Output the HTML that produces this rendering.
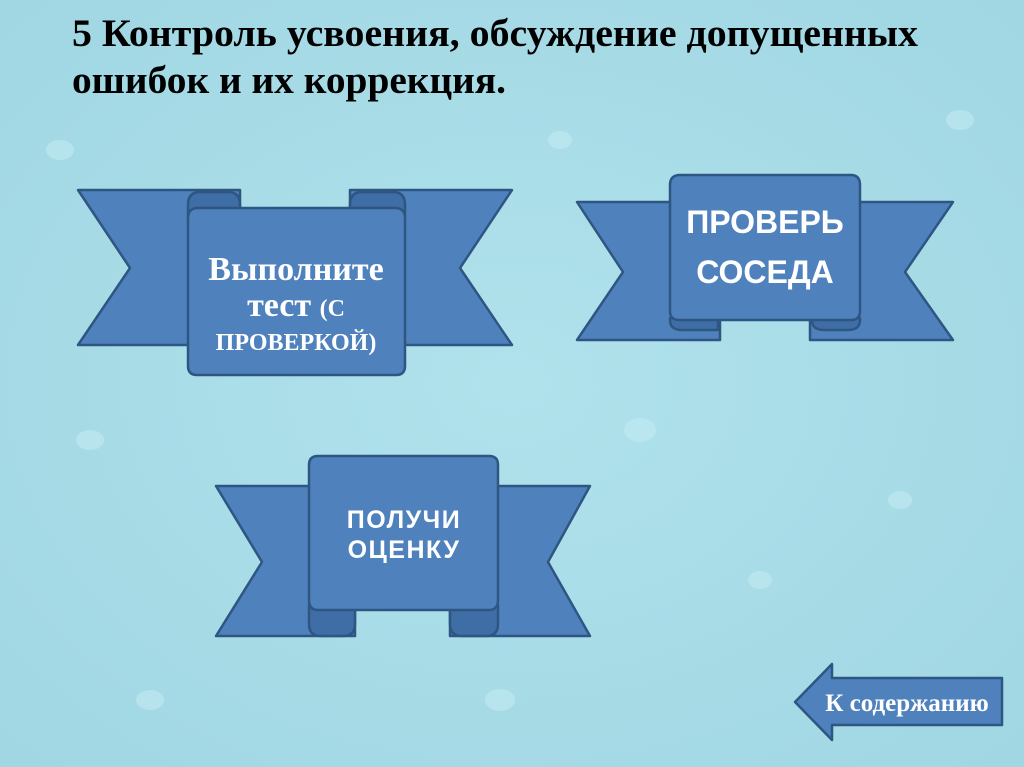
<!DOCTYPE html>
<html><head><meta charset="utf-8"><style>
html,body{margin:0;padding:0;width:1024px;height:767px;overflow:hidden;background:#a9dde8;}
svg{display:block}
</style></head><body>
<svg width="1024" height="767" viewBox="0 0 1024 767" xmlns="http://www.w3.org/2000/svg">
<defs>
<radialGradient id="bg" cx="50%" cy="50%" r="75%"><stop offset="0" stop-color="#b0e2ec"/><stop offset="1" stop-color="#9fd6e2"/></radialGradient>
</defs>
<rect width="1024" height="767" fill="url(#bg)"/>
<g fill="#c8eef4" opacity="0.5">
<ellipse cx="60" cy="150" rx="14" ry="10"/><ellipse cx="640" cy="430" rx="16" ry="12"/><ellipse cx="900" cy="500" rx="12" ry="9"/>
<ellipse cx="150" cy="700" rx="14" ry="10"/><ellipse cx="500" cy="700" rx="15" ry="11"/><ellipse cx="760" cy="580" rx="12" ry="9"/>
<ellipse cx="960" cy="120" rx="14" ry="10"/><ellipse cx="560" cy="140" rx="12" ry="9"/><ellipse cx="90" cy="440" rx="14" ry="10"/>
</g>
<g font-family="'Liberation Serif',serif" font-weight="bold" font-size="39" fill="#000">
<text x="72" y="46" textLength="846" lengthAdjust="spacingAndGlyphs">5 Контроль усвоения, обсуждение допущенных</text>
<text x="72" y="93" textLength="434" lengthAdjust="spacingAndGlyphs">ошибок и их коррекция.</text>
</g>

<g fill="#4f81bd" stroke="#2f5682" stroke-width="2.5" stroke-linejoin="round">
<polygon points="78,190 240,190 240,345 78,345 130,268"/>
<polygon points="512,190 350,190 350,345 512,345 460,268"/>
<path d="M188,205 Q188,192 200,192 L228,192 Q240,192 240,205 L240,218 L188,218 Z" fill="#3f6ea6"/>
<path d="M350,205 Q350,192 362,192 L393,192 Q405,192 405,205 L405,218 L350,218 Z" fill="#3f6ea6"/>
<path d="M188,218 Q188,208 198,208 L395,208 Q405,208 405,218 L405,366 Q405,375 396,375 L197,375 Q188,375 188,366 Z"/>
<polygon points="577,202 720,202 720,340 577,340 623,272"/>
<polygon points="953,202 810,202 810,340 953,340 905,272"/>
<path d="M670,318 L718,318 L718,330 Q718,330 706,330 L682,330 Q670,330 670,320 Z" fill="#3f6ea6"/>
<path d="M812,318 L860,318 L860,320 Q860,330 848,330 L824,330 Q812,330 812,320 Z" fill="#3f6ea6"/>
<path d="M670,185 Q670,175 680,175 L851,175 Q860,175 860,185 L860,311 Q860,320 851,320 L679,320 Q670,320 670,311 Z"/>
<polygon points="216,486 355,486 355,636 216,636 262,562"/>
<polygon points="590,486 450,486 450,636 590,636 548,562"/>
<path d="M309,605 L355,605 L355,624 Q355,636 343,636 L321,636 Q309,636 309,624 Z" fill="#3f6ea6"/>
<path d="M450,605 L498,605 L498,624 Q498,636 486,636 L462,636 Q450,636 450,624 Z" fill="#3f6ea6"/>
<path d="M309,465 Q309,456 318,456 L489,456 Q498,456 498,465 L498,600 Q498,610 489,610 L318,610 Q309,610 309,600 Z"/>
<polygon points="795,702 832,664 832,678 1002,678 1002,725 832,725 832,740"/>
</g>

<g fill="#fff" text-anchor="middle">
<g font-family="'Liberation Serif',serif" font-weight="bold">
<text x="296" y="280" font-size="34">Выполните</text>
<text x="296" y="316" font-size="34">тест <tspan font-size="24">(С</tspan></text>
<text x="296" y="350" font-size="24">ПРОВЕРКОЙ)</text>
<text x="907" y="711" font-size="25">К содержанию</text>
</g>
<g font-family="'Liberation Sans',sans-serif" font-weight="bold">
<text x="765" y="233" font-size="32">ПРОВЕРЬ</text>
<text x="765" y="283" font-size="32">СОСЕДА</text>
<text x="404" y="528" font-size="25" letter-spacing="1.5">ПОЛУЧИ</text>
<text x="404" y="558" font-size="25" letter-spacing="1.5">ОЦЕНКУ</text>
</g>
</g>
</svg>
</body></html>
